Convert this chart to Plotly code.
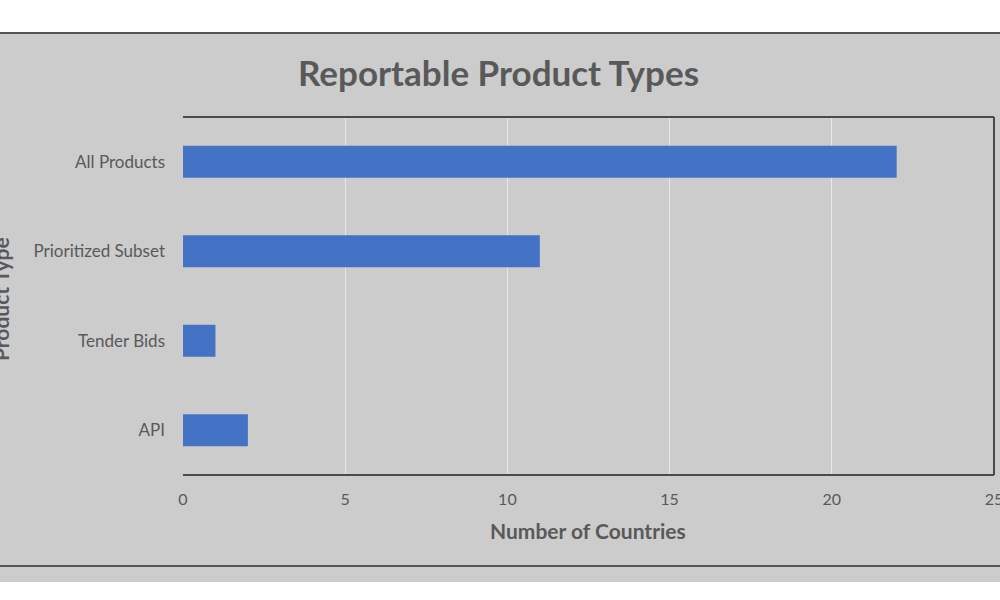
import plotly.graph_objects as go

categories = ["All Products", "Prioritized Subset", "Tender Bids", "API"]
countries = [22, 11, 1, 2]
x_ticks = [0, 5, 10, 15, 20, 25]

FONT = "Lato"
TXT = "#595959"
W, H = 1000, 600
L, R, T, B = 183, 994, 117, 475

fig = go.Figure(go.Bar(
    y=categories, x=countries, orientation="h",
    marker=dict(color="#4472C4", line=dict(width=0)),
    width=0.357,
))

fig.update_layout(
    width=W, height=H,
    margin=dict(l=0, r=0, t=0, b=0, pad=0, autoexpand=False),
    paper_bgcolor="white",
    plot_bgcolor="#CCCCCC",
    showlegend=False,
    font=dict(family=FONT, color=TXT),
    xaxis=dict(
        domain=[L / W, R / W], range=[0, 25], tickvals=x_ticks,
        showgrid=True, gridcolor="#E6E6E6", gridwidth=1,
        zeroline=False, showline=False, automargin=False,
        tickfont=dict(size=16, color=TXT, family=FONT),
        ticks="", ticklabelstandoff=13, ticklabeloverflow="allow",
    ),
    yaxis=dict(
        domain=[1 - B / H, 1 - T / H], autorange="reversed",
        showgrid=False, zeroline=False, showline=False, automargin=False,
        tickfont=dict(size=17, color=TXT, family=FONT),
        ticks="", ticklabelstandoff=17,
    ),
    shapes=[
        dict(type="rect", xref="paper", yref="paper", x0=0, x1=1,
             y0=1 - 582 / H, y1=1 - 33 / H, fillcolor="#CCCCCC", line=dict(width=0), layer="below"),
        dict(type="line", xref="paper", yref="paper", x0=0, x1=1,
             y0=1 - 33 / H, y1=1 - 33 / H, line=dict(color="#555555", width=2)),
        dict(type="line", xref="paper", yref="paper", x0=0, x1=1,
             y0=1 - 566 / H, y1=1 - 566 / H, line=dict(color="#555555", width=2)),
        dict(type="line", xref="paper", yref="paper", x0=L / W, x1=R / W,
             y0=1 - T / H, y1=1 - T / H, line=dict(color="#4A4A4A", width=2)),
        dict(type="line", xref="paper", yref="paper", x0=R / W, x1=R / W,
             y0=1 - T / H, y1=1 - B / H, line=dict(color="#4A4A4A", width=2)),
        dict(type="line", xref="paper", yref="paper", x0=L / W, x1=R / W,
             y0=1 - B / H, y1=1 - B / H, line=dict(color="#4A4A4A", width=2)),
    ],
    annotations=[
        dict(text="<b>Reportable Product Types</b>", xref="paper", yref="paper",
             x=498 / W, y=1 - 72 / H, xanchor="center", yanchor="middle",
             showarrow=False, font=dict(size=35, color=TXT, family=FONT)),
        dict(text="<b>Number of Countries</b>", xref="paper", yref="paper",
             x=588 / W, y=1 - 530 / H, xanchor="center", yanchor="middle",
             showarrow=False, font=dict(size=21, color=TXT, family=FONT)),
        dict(text="<b>Product Type</b>", xref="paper", yref="paper",
             x=0, y=1 - 299 / H, xanchor="center", yanchor="middle",
             textangle=-90, showarrow=False, font=dict(size=21, color=TXT, family=FONT)),
    ],
)

fig.write_html("out.html")
